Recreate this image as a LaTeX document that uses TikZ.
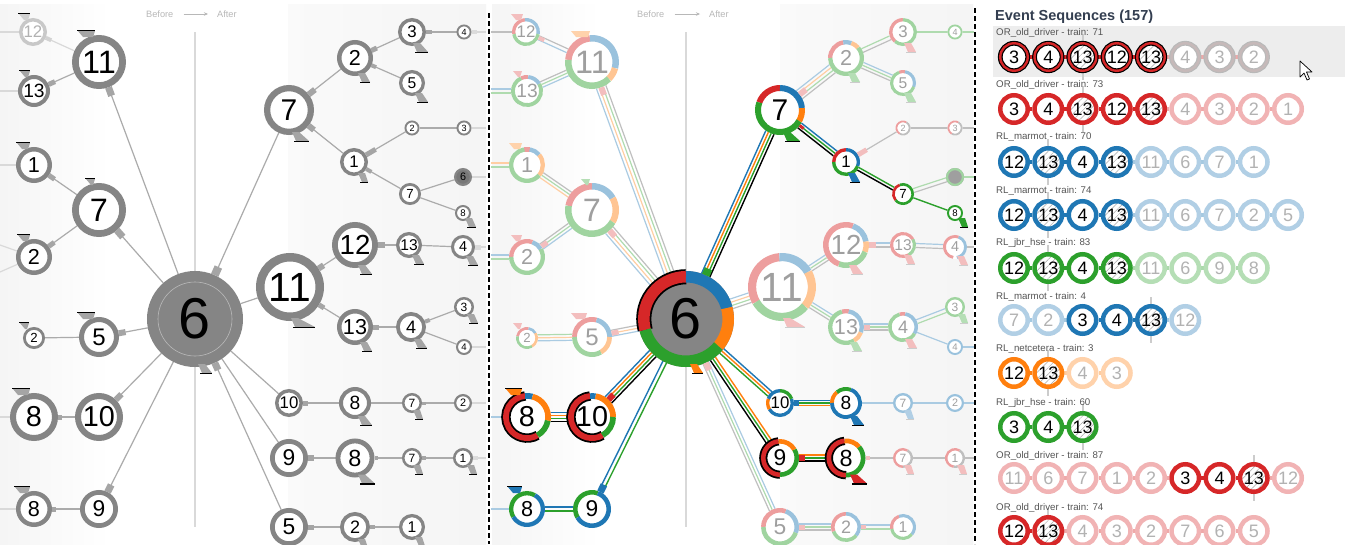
\documentclass[tikz,border=0pt]{standalone}
\usepackage{fontspec}
\setmainfont{Liberation Sans}
\usetikzlibrary{calc,patterns.meta,arrows.meta}
\definecolor{cr}{HTML}{D62728}
\definecolor{cb}{HTML}{1F77B4}
\definecolor{co}{HTML}{FF7F0E}
\definecolor{cg}{HTML}{2CA02C}
\definecolor{gring}{HTML}{858585}
\definecolor{gedge}{HTML}{ABABAB}
\definecolor{gflow}{HTML}{A5A5A5}
\definecolor{gtext}{HTML}{B8B8B8}
\definecolor{ttl}{HTML}{333E50}
\definecolor{lbl}{HTML}{555555}
\pgfdeclarelayer{bg}
\pgfdeclarelayer{edges}
\pgfsetlayers{bg,edges,main}
\newcommand\fsz[1]{\fontsize{#1}{#1}\selectfont}

% grey ring node: [options]{name}{x}{y}{radius}{label}
\newcommand\gn[6][]{%
  \pgfmathsetmacro\rw{max(1.6,0.25*#5)}%
  \pgfmathsetmacro\dd{2*#5-\rw}%
  \pgfmathsetmacro\fz{max(9,1.2*#5)}%
  \node[gnode,minimum size=\dd pt,line width=\rw pt,font=\fsz{\fz},#1] (#2) at (#3,#4) {#6};}

% coloured ring node: [options]{name}{x}{y}{radius}{label}{style/start/end,...}
\newcommand\cn[7][]{%
  \pgfmathsetmacro\rw{max(1.6,0.24*#5)}%
  \pgfmathsetmacro\rr{#5-0.5*\rw}%
  \pgfmathsetmacro\dd{2*#5}%
  \pgfmathsetmacro\fz{max(9,1.2*#5)}%
  \node[cnode,minimum size=\dd pt,font=\fsz{\fz},#1] (#2) at (#3,#4) {#6};%
  \foreach \s/\a/\b in {#7}{%
    \draw[\s,line width=\rw pt] (#3,#4) ++(\a:\rr) arc[start angle=\a,end angle=\b,radius=\rr];}}

% bundle of parallel lines between two nodes: {from}{to}{style/offset,...}
\newcommand\bund[3]{%
  \foreach \s/\o in {#3}{%
    \draw[\s] ($(#1.center)!\o pt!90:(#2.center)$) -- ($(#2.center)!\o pt!-90:(#1.center)$);}}

% flow block on the edge from #2 towards #3, between distances #4 and #5, width #6
\newcommand\fb[6][gflow]{%
  \draw[#1,line width=#6pt] ($(#2.center)!#4pt!(#3.center)$) -- ($(#2.center)!#5pt!(#3.center)$);}

% timing marks: wedge above a node (before) or below it (after), with a bar
\newcommand\tw[6][gflow]{\fill[#1] (#5+1,#3-#4-4) -- (#6,#3-#4-4) -- (#6-2,#3-#4+2) -- (#5+6,#3-#4+2) -- cycle;}
\newcommand\tb[6][gflow]{\tw[#1]{#2}{#3}{#4}{#5}{#6}\draw[bar] (#5,#3-#4-4.5) -- (#6,#3-#4-4.5);}
\newcommand\aw[6][gflow]{\fill[#1] (#5-2,#3+#4-3) -- (#5+5,#3+#4-3) -- (#6,#3+#4+6) -- (#5+2,#3+#4+6) -- cycle;}
\newcommand\ab[6][gflow]{\aw[#1]{#2}{#3}{#4}{#5}{#6}\draw[bar] (#5,#3+#4+6.5) -- (#6,#3+#4+6.5);}
\newcommand\abf[6][gflow]{\aw[#1]{#2}{#3}{#4}{#5}{#6}\draw[barf] (#5,#3+#4+6.5) -- (#6,#3+#4+6.5);}

% one event sequence: {id}{y}{on style}{off style}{colour}{label/on,...}
\newcommand\seqrow[6]{%
  \gdef\prevh{0}%
  \foreach \l/\h [count=\i] in {#6}{%
    \pgfmathsetmacro\sx{1014+(\i-1)*34.25}%
    \ifnum\h=1 \node[#3,hatch=\l] (s#1-\i) at (\sx,#2) {\l};%
    \else \node[#4,hatch=\l] (s#1-\i) at (\sx,#2) {\l};\fi
    \ifnum\i>1
      \pgfmathtruncatemacro\ip{\i-1}%
      \pgfmathtruncatemacro\both{\h*\prevh}%
      \ifnum\both=1 \def\lc{#5}\else\def\lc{#5!40}\fi
      \begin{pgfonlayer}{edges}\draw[seqlink,draw=\lc] (s#1-\ip) -- (s#1-\i);\end{pgfonlayer}%
    \fi
    \xdef\prevh{\h}}}

\begin{document}
\begin{tikzpicture}[x=1pt,y=-1pt,
  gnode/.style={circle,inner sep=0pt,draw=gring,fill=white,text=black},
  cnode/.style={circle,inner sep=0pt,fill=white,text=black},
  fd/.style={text=gray!75},
  ge/.style={draw=gedge,line width=1.2pt},
  gel/.style={draw=gedge!45,line width=1.2pt},
  bar/.style={draw=black,line width=1.6pt},
  barf/.style={draw=gray!40,line width=1.4pt},
  sR/.style={draw=cr}, sB/.style={draw=cb}, sO/.style={draw=co}, sG/.style={draw=cg},
  sRK/.style={draw=cr,preaction={draw=black,line width=\pgflinewidth+1.8pt}},
  fR/.style={draw=cr!45}, fB/.style={draw=cb!45}, fO/.style={draw=co!45},
  fG/.style={draw=cg!45}, fK/.style={draw=gray!50},
  eB/.style={draw=cb,line width=1.4pt}, eO/.style={draw=co,line width=1.4pt},
  eG/.style={draw=cg,line width=1.4pt}, eK/.style={draw=black,line width=1.4pt},
  uB/.style={draw=cb!38,line width=1.2pt}, uO/.style={draw=co!38,line width=1.2pt},
  uG/.style={draw=cg!38,line width=1.2pt}, uK/.style={draw=gray!50,line width=1.2pt},
  vline/.style={draw=gray!30,line width=1.5pt},
  divider/.style={draw=black,line width=1.6pt,dash pattern=on 5pt off 3pt},
  bfa/.style={inner sep=0pt,text=gtext,font=\fsz{9.2},anchor=west},
  bfarrow/.style={draw=gtext,line width=0.8pt,-{Stealth[length=4pt,width=3.5pt]},shorten <=10pt,shorten >=9pt},
  sq/.style={circle,inner sep=0pt,minimum size=27.5pt,line width=4.5pt,fill=white,text=black,font=\fsz{18}},
  sqR/.style={sq,draw=cr}, sqRf/.style={sq,draw=cr!35,text=gray!60},
  sqB/.style={sq,draw=cb}, sqBf/.style={sq,draw=cb!35,text=gray!60},
  sqG/.style={sq,draw=cg}, sqGf/.style={sq,draw=cg!35,text=gray!60},
  sqO/.style={sq,draw=co}, sqOf/.style={sq,draw=co!35,text=gray!60},
  sqK/.style={sq,draw=black,double=cr,double distance=2.4pt,line width=1.2pt},
  sqKf/.style={sq,draw=gray!55,double=cr!15!gray!50,double distance=2.4pt,line width=1.2pt,text=gray!60},
  seqlink/.style={line width=3.5pt},
  vmark/.style={draw=gray!40,line width=2pt},
  seqlabel/.style={anchor=west,inner sep=0pt,font=\fsz{9.7},text=lbl},
  hatch/.code={\ifnum#1=13\relax\pgfkeysalso{path picture={\fill[pattern={Lines[angle=45,distance=4.5pt,line width=0.5pt]},pattern color=gray!70] (path picture bounding box.south west) rectangle (path picture bounding box.north east);}}\fi}
]
\useasboundingbox (0,0) rectangle (1351,544);

% ---------- background bands ----------
\begin{pgfonlayer}{bg}
  \fill[white] (0,0) rectangle (1351,544);
  \shade[left color=black!4,right color=white] (0,4) rectangle (110,544);
  \shade[left color=black!2,right color=black!4] (288,4) rectangle (486,544);
  \shade[left color=black!4,right color=white] (492,4) rectangle (600,544);
  \shade[left color=black!2,right color=black!4] (780,4) rectangle (973,544);
  \fill[black!7] (993,26) rectangle (1345,77);
\end{pgfonlayer}

% ---------- panel headers and axes ----------
\node[bfa] (bf1) at (146,14) {Before};
\node[bfa] (af1) at (217,14) {After};
\draw[bfarrow] (bf1) -- (af1);
\node[bfa] (bf2) at (637,14) {Before};
\node[bfa] (af2) at (709,14) {After};
\draw[bfarrow] (bf2) -- (af2);
\begin{pgfonlayer}{edges}
  \draw[vline] (195,32) -- (195,527);
  \draw[vline] (686,32) -- (686,527);
\end{pgfonlayer}
\draw[divider] (489,13) -- (489,544);
\draw[divider] (975,8) -- (975,544);

% =============== left panel: aggregated tree ===============
\gn[draw=gring!45,text=gray!60]{L12}{33}{32}{14}{12}
\gn{L11}{99}{62}{27}{11}
\gn{L13}{34}{91}{16}{13}
\gn{L1}{34}{165}{18}{1}
\gn{L7}{99}{210}{27}{7}
\gn{L2}{34}{257}{18}{2}
\gn[fill=gring]{L6}{195}{319}{48}{6}
\draw[gray!55,line width=0.6pt] (L6.center) circle[radius=37];
\gn{L2s}{34}{338}{11}{2}
\gn{L5}{99}{337}{20}{5}
\gn{L8}{34}{417}{24}{8}
\gn{L10}{99}{417}{24}{10}
\gn{L8b}{34}{509}{18}{8}
\gn{L9}{99}{509}{19}{9}

\gn{R7}{289}{110}{25}{7}
\gn{R2}{355}{58}{18}{2}
\gn{R3}{412}{32}{14}{3}
\gn{R4}{464}{32}{7.5}{4}
\gn{R5a}{412}{83}{13}{5}
\gn{R2s}{412}{128}{7.5}{2}
\gn{R3s}{464}{128}{7.5}{3}
\gn{R1}{354}{162}{14}{1}
\gn[fill=gring!90!black]{R6s}{463}{177}{9}{6}
\gn{R7s}{410}{194}{11}{7}
\gn{R8s}{463}{213}{8}{8}
\gn{R12}{355}{245}{23}{12}
\gn{R13}{409}{245}{13}{13}
\gn{R4b}{463}{247}{12}{4}
\gn{R11}{290}{287}{34}{11}
\gn{R13b}{355}{327}{18}{13}
\gn{R4c}{411}{327}{15}{4}
\gn{R3b}{464}{307}{10}{3}
\gn{R4d}{464}{347}{8}{4}
\gn{R10}{289}{403}{14}{10}
\gn{R8}{355}{403}{16}{8}
\gn{R7b}{412}{403}{10}{7}
\gn{R2b}{463}{403}{9}{2}
\gn{R9}{289}{458}{19}{9}
\gn{R8c}{355}{458}{19.5}{8}
\gn{R7c}{412}{458}{10}{7}
\gn{R1b}{463}{458}{10}{1}
\gn{R5}{289}{527}{19}{5}
\gn{R2c}{355}{527}{15}{2}
\gn{R1c}{412}{527}{13}{1}

\coordinate (lx12) at (0,32);  \coordinate (lx13) at (0,91);
\coordinate (lx1) at (0,165);  \coordinate (lx2) at (0,245);
\coordinate (lx2b) at (0,272);
\coordinate (lx8) at (0,417);  \coordinate (lx8b) at (0,509);
\coordinate (rx4) at (486,32); \coordinate (rx3s) at (486,128);
\coordinate (rx6s) at (486,177); \coordinate (rx4b) at (486,247);
\coordinate (rx4d) at (486,347); \coordinate (rx2b) at (486,403);
\coordinate (rx1b) at (486,458);

\begin{pgfonlayer}{edges}
  \foreach \a/\b in {L6/L11,L6/L7,L6/L5,L6/L10,L6/L9,L11/L13,L7/L1,L7/L2,L5/L2s,L10/L8,L9/L8b,
      L6/R7,L6/R11,L6/R10,L6/R9,L6/R5,R7/R2,R2/R3,R2/R5a,R3/R4,R7/R1,R1/R2s,R2s/R3s,R1/R7s,
      R7s/R6s,R7s/R8s,R11/R12,R12/R13,R13/R4b,R11/R13b,R13b/R4c,R4c/R3b,R4c/R4d,R10/R8,R8/R7b,
      R7b/R2b,R9/R8c,R8c/R7c,R7c/R1b,R5/R2c,R2c/R1c}
    \draw[ge] (\a) -- (\b);
  \draw[gel] (L11) -- (L12);
  \foreach \a/\b in {lx12/L12,lx13/L13,lx1/L1,lx2/L2,lx2b/L2,lx8/L8,lx8b/L8b,
      R4/rx4,R3s/rx3s,R6s/rx6s,R4b/rx4b,R4d/rx4d,R2b/rx2b,R1b/rx1b}
    \draw[gel] (\a) -- (\b);
\end{pgfonlayer}

% flow blocks
\fb[gflow!50]{L12}{L11}{14}{20}{4}
\fb{L13}{L11}{16}{23}{5}
\fb{L11}{L6}{27}{36}{7}
\fb{L1}{L7}{18}{25}{5}
\fb{L2}{L7}{18}{25}{5}
\fb{L7}{L6}{27}{36}{7}
\fb{L5}{L6}{20}{27}{6}
\fb{L10}{L6}{24}{32}{6}
\fb{L8}{L10}{24}{28}{5}
\fb{L9}{L6}{19}{27}{7}
\fb{L8b}{L9}{18}{22}{5}
\fb{L6}{R7}{48}{57}{8}
\fb{L6}{R5}{48}{56}{7}
\fb{R7}{R2}{25}{33}{6}
\fb{R7}{R1}{25}{32}{6}
\fb{R2}{R3}{18}{24}{5}
\fb{R2}{R5a}{18}{23}{4}
\fb{R1}{R2s}{14}{25}{5}
\fb{R1}{R7s}{14}{20}{4}
\fb{R3}{R4}{14}{20}{4}
\fb{R12}{R13}{23}{30}{6}
\fb{R11}{R12}{34}{40}{6}
\fb{R11}{R13b}{34}{40}{5}
\fb{R13b}{R4c}{18}{24}{5}
\fb{R4c}{R3b}{15}{20}{4}
\fb{R10}{R8}{14}{19}{5}
\fb{R9}{R8c}{19}{25}{6}
\fb{R8c}{R7c}{19.5}{23}{4}
\fb{R7b}{R2b}{10}{14}{3}
\fb{R7c}{R1b}{10}{14}{4}
\fb{R5}{R2c}{19}{25}{5}
\fb{R2c}{R1c}{15}{20}{4}
\fb[gflow!40]{R4}{rx4}{7.5}{13}{4}
\fb[gflow!40]{R4b}{rx4b}{12}{18}{5}
\fb[gflow!40]{R1b}{rx1b}{10}{15}{4}

% timing marks
\tb[gflow!50]{33}{32}{14}{18}{30}
\tb{99}{62}{27}{77}{95}
\tb{34}{91}{16}{19}{30}
\tb{34}{165}{18}{16}{30}
\tb{99}{210}{27}{85}{95}
\tb{34}{257}{18}{17}{30}
\tb{34}{338}{11}{19}{29}
\tb{99}{337}{20}{77}{95}
\tb{34}{417}{24}{12}{30}
\tb{34}{509}{18}{14}{30}
\ab{195}{319}{48}{200}{212}
\ab{289}{110}{25}{294}{309}
\ab{355}{58}{18}{360}{370}
\ab{412}{32}{14}{415}{428}
\ab{412}{83}{13}{417}{428}
\ab{354}{162}{14}{360}{368}
\ab{463}{213}{8}{467}{476}
\ab{355}{245}{23}{360}{372}
\ab{409}{245}{13}{414}{424}
\ab{463}{247}{12}{468}{478}
\ab{290}{287}{34}{293}{315}
\ab{355}{327}{18}{362}{372}
\ab{411}{327}{15}{416}{427}
\ab{464}{307}{10}{469}{478}
\ab{355}{403}{16}{360}{372}
\ab{412}{403}{10}{415}{423}
\ab{355}{458}{19.5}{360}{375}
\ab{412}{458}{10}{415}{423}
\ab{463}{458}{10}{469}{477}
\ab{355}{527}{15}{360}{368}
\ab{412}{527}{13}{417}{425}

% =============== middle panel: coloured by group ===============
\cn[fd]{ML12}{526}{32}{14}{12}{fR/170/265,fB/265/370,fG/370/530}
\cn[fd]{ML11}{592}{62}{27}{11}{fR/185/265,fB/265/375,fO/375/405,fG/405/545}
\cn[fd]{ML13}{527}{91}{16}{13}{fR/245/275,fB/275/330,fG/330/605}
\cn[fd]{ML1}{527}{165}{18}{1}{fR/260/280,fB/280/320,fO/320/400,fG/400/620}
\cn[fd]{ML7}{592}{210}{27}{7}{fR/190/270,fB/270/330,fO/330/390,fG/390/550}
\cn[fd]{ML2}{527}{257}{18}{2}{fR/180/290,fB/290/330,fG/330/540}
\cn[fd]{ML2s}{527}{338}{11}{2}{fR/190/280,fB/280/330,fO/330/420,fG/420/550}
\cn[fd]{ML5}{592}{337}{20}{5}{fR/180/285,fB/285/360,fO/360/420,fG/420/540}
\cn{ML8}{527}{417}{24}{8}{sRK/60/265,sB/265/285,sO/285/370,sG/370/420}
\cn{ML10}{592}{417}{24}{10}{sRK/60/265,sB/265/280,sO/280/360,sG/360/420}
\cn{ML8b}{527}{509}{18}{8}{sG/150/300,sB/300/510}
\cn{ML9}{592}{509}{19}{9}{sG/150/290,sB/290/510}
\cn[fill=gring]{M6}{686}{319}{48}{6}{sRK/165/270,sB/270/345,sO/345/400,sG/400/525}

\cn{MR7}{780}{110}{25}{7}{sR/200/270,sB/270/355,sO/355/390,sG/390/560}
\cn[fd]{MR2}{846}{58}{18}{2}{fR/180/260,fB/260/290,fO/290/320,fG/320/540}
\cn[fd]{MR3}{903}{32}{14}{3}{fR/130/270,fG/270/490}
\cn[fd]{MR4}{955}{32}{7.5}{4}{fG/0/360}
\cn[fd]{MR5a}{903}{83}{13}{5}{fR/250/280,fB/280/380,fG/380/610}
\cn[fd]{MR2s}{903}{128}{7.5}{2}{fK/300/480,fR/120/300}
\cn[fd]{MR3s}{955}{128}{7.5}{3}{fK/300/480,fR/120/300}
\cn{MR1}{846}{162}{14}{1}{sR/180/270,sB/270/380,sG/380/540}
\cn[fd,fill=gray!75]{MR6s}{955}{177}{9}{6}{fG/0/360}
\cn{MR7s}{903}{194}{11}{7}{sR/140/250,sG/250/500}
\cn{MR8s}{955}{213}{8}{8}{sG/0/360}
\cn[fd]{MR12}{846}{245}{23}{12}{fR/110/290,fB/290/350,fO/350/380,fG/380/470}
\cn[fd]{MR13}{903}{245}{13}{13}{fR/60/330,fG/330/420}
\cn[fd]{MR4b}{955}{247}{12}{4}{fR/100/290,fB/290/440}
\cn[fd]{MR11}{782}{287}{34}{11}{fR/150/265,fB/265/330,fO/330/400,fG/400/510}
\cn[fd]{MR13b}{846}{327}{18}{13}{fR/255/280,fB/280/380,fO/380/420,fG/420/615}
\cn[fd]{MR4c}{903}{327}{15}{4}{fR/255/280,fB/280/390,fG/390/615}
\cn[fd]{MR3b}{955}{307}{10}{3}{fG/0/360}
\cn[fd]{MR4d}{955}{347}{8}{4}{fB/0/360}
\cn{MR10}{780}{403}{14}{10}{sB/340/510,sO/150/200,sB/200/270,sG/270/340}
\cn{MR8}{846}{403}{16}{8}{sO/180/230,sG/230/290,sB/290/540}
\cn[fd]{MR7b}{903}{403}{10}{7}{fB/0/360}
\cn[fd]{MR2b}{955}{403}{9}{2}{fB/0/360}
\cn{MR9}{780}{458}{19}{9}{sRK/90/265,sO/265/330,sG/330/450}
\cn{MR8c}{846}{458}{19.5}{8}{sRK/90/265,sO/265/320,sG/320/450}
\cn[fd]{MR7c}{903}{458}{10}{7}{fK/300/450,fR/90/300}
\cn[fd]{MR1b}{955}{458}{10}{1}{fK/300/460,fR/100/300}
\cn[fd]{MR5}{780}{527}{19}{5}{fR/180/290,fB/290/380,fG/380/540}
\cn[fd]{MR2c}{846}{527}{15}{2}{fR/160/270,fB/270/400,fG/400/520}
\cn[fd]{MR1c}{903}{527}{13}{1}{fR/170/250,fB/250/400,fG/400/530}

\coordinate (mx12) at (491,32);  \coordinate (mx13) at (491,91);
\coordinate (mx1) at (491,165);  \coordinate (mx2) at (491,257);
\coordinate (mx8) at (491,417);  \coordinate (mx8b) at (491,509);
\coordinate (nx4) at (974,32);   \coordinate (nx3s) at (974,128);
\coordinate (nx6s) at (974,177); \coordinate (nx4b) at (974,247);
\coordinate (nx4d) at (974,347); \coordinate (nx2b) at (974,403);
\coordinate (nx1b) at (974,458);

\begin{pgfonlayer}{edges}
  % faint bundles
  \bund{M6}{ML11}{uB/5,uO/1.7,uG/-1.7,uK/-5}
  \bund{M6}{ML7}{uB/5,uO/1.7,uG/-1.7,uK/-5}
  \bund{M6}{ML5}{uB/3,uO/0,uK/-3}
  \bund{ML11}{ML12}{uB/2,uK/-2}
  \bund{ML11}{ML13}{uB/3,uG/0,uK/-3}
  \bund{ML7}{ML1}{uO/3,uG/0,uK/-3}
  \bund{ML7}{ML2}{uB/3,uG/0,uK/-3}
  \bund{ML5}{ML2s}{uB/3,uO/0,uG/-3}
  \bund{MR7}{MR2}{uB/5,uO/1.7,uG/-1.7,uK/-5}
  \bund{MR2}{MR3}{uG/2,uK/-2}
  \bund{MR2}{MR5a}{uB/3,uG/0,uK/-3}
  \bund{MR3}{MR4}{uG/0}
  \bund{MR1}{MR2s}{uK/0}
  \bund{MR2s}{MR3s}{uK/0}
  \bund{MR7s}{MR6s}{uG/2,uK/-2}
  \bund{M6}{MR11}{uB/5,uO/1.7,uG/-1.7,uK/-5}
  \bund{MR11}{MR12}{uB/3,uG/0,uK/-3}
  \bund{MR12}{MR13}{uB/2,uK/-2}
  \bund{MR13}{MR4b}{uB/2,uK/-2}
  \bund{MR11}{MR13b}{uB/3,uG/0,uK/-3}
  \bund{MR13b}{MR4c}{uB/3,uG/0,uK/-3}
  \bund{MR4c}{MR3b}{uB/2,uG/-2}
  \bund{MR4c}{MR4d}{uB/0}
  \bund{MR8}{MR7b}{uB/0}
  \bund{MR7b}{MR2b}{uB/0}
  \bund{MR8c}{MR7c}{uK/0}
  \bund{MR7c}{MR1b}{uK/0}
  \bund{M6}{MR5}{uB/3,uG/0,uK/-3}
  \bund{MR5}{MR2c}{uB/3,uG/0,uK/-3}
  \bund{MR2c}{MR1c}{uB/2,uG/-2}
  \bund{mx12}{ML12}{uK/0}
  \bund{mx13}{ML13}{uB/2,uG/-2}
  \bund{mx1}{ML1}{uO/2,uG/-2}
  \bund{mx2}{ML2}{uB/2,uG/-2}
  \bund{mx8}{ML8}{uB/0}
  \bund{mx8b}{ML8b}{uB/0}
  \bund{MR4}{nx4}{uG/0}
  \bund{MR3s}{nx3s}{uK/0}
  \bund{MR6s}{nx6s}{uG/0}
  \bund{MR4b}{nx4b}{uK/0}
  \bund{MR4d}{nx4d}{uB/0}
  \bund{MR2b}{nx2b}{uB/0}
  \bund{MR1b}{nx1b}{uK/0}
  % highlighted bundles
  \bund{M6}{MR7}{eB/4.5,eO/1.5,eG/-1.5,eK/-4.5}
  \bund{MR7}{MR1}{eB/3,eG/0,eK/-3}
  \bund{MR1}{MR7s}{eG/1.5,eK/-1.5}
  \bund{MR7s}{MR8s}{eG/0}
  \bund{M6}{ML10}{eB/-4.5,eO/-1.5,eG/1.5,eK/4.5}
  \bund{ML10}{ML8}{eB/-4.5,eO/-1.5,eG/1.5,eK/4.5}
  \bund{M6}{ML9}{eB/-2,eG/2}
  \bund{ML9}{ML8b}{eB/-2,eG/2}
  \bund{M6}{MR10}{eB/3,eO/0,eG/-3}
  \bund{MR10}{MR8}{eB/2.5,eG/0,eO/-2.5}
  \bund{M6}{MR9}{eO/3,eG/0,eK/-3}
  \bund{MR9}{MR8c}{eO/3,eG/0,eK/-3}
\end{pgfonlayer}

% coloured flow blocks
\fb[cr]{ML10}{M6}{24}{31}{6}
\fb[cb]{ML9}{M6}{19}{27}{7}
\fb[cr]{MR7}{MR1}{25}{30}{3}
\fb[cb]{MR10}{MR8}{14}{19}{5}
\fb[cr]{MR9}{MR8c}{19}{25}{6}
\fb[cg]{M6}{MR7}{48}{55}{8}
\fb[cr!30]{ML11}{M6}{27}{35}{6}
\fb[cr!30]{ML7}{M6}{27}{35}{6}
\fb[cr!30]{ML12}{ML11}{14}{20}{4}
\fb[cr!30]{ML2}{ML7}{18}{25}{5}
\fb[cr!30]{ML5}{M6}{20}{27}{5}
\fb[cr!30]{MR7}{MR2}{25}{33}{6}
\fb[cr!30]{MR1}{MR2s}{14}{24}{5}
\fb[cr!30]{MR12}{MR13}{23}{30}{6}
\fb[cr!30]{MR13b}{MR4c}{18}{24}{5}
\fb[cr!30]{MR8c}{MR7c}{19.5}{24}{4}
\fb[cr!30]{MR5}{MR2c}{19}{25}{5}
\fb[cr!30]{MR2c}{MR1c}{15}{20}{4}
\fb[cr!30]{M6}{MR5}{48}{56}{6}

% coloured timing marks
\tw[cr!30]{526}{32}{14}{510}{523}
\tw[co!35]{592}{62}{27}{570}{590}
\tw[cr!30]{527}{91}{16}{512}{522}
\tw[co!35]{527}{165}{18}{508}{522}
\tw[cg!35]{592}{210}{27}{580}{590}
\tw[cr!30]{527}{257}{18}{510}{522}
\tw[cr!30]{527}{338}{11}{512}{522}
\tw[cr!30]{592}{337}{20}{570}{587}
\tb[co]{527}{417}{24}{505}{522}
\tb[cb]{527}{509}{18}{507}{522}
\ab[co]{686}{319}{48}{692}{703}
\ab[cg]{780}{110}{25}{785}{800}
\ab[cb]{846}{162}{14}{850}{860}
\ab[cg]{955}{213}{8}{960}{968}
\ab[cb]{846}{403}{16}{852}{864}
\ab[cr]{846}{458}{19.5}{852}{867}
\abf[cg!35]{846}{58}{18}{850}{860}
\abf[cr!30]{903}{32}{14}{906}{916}
\abf[cg!35]{903}{83}{13}{906}{916}
\abf[cr!30]{846}{245}{23}{851}{863}
\abf[cr!30]{903}{245}{13}{906}{915}
\abf[cr!30]{955}{247}{12}{959}{968}
\abf[cr!30]{782}{287}{34}{785}{805}
\abf[cg!35]{846}{327}{18}{852}{862}
\abf[cr!30]{903}{327}{15}{907}{917}
\abf[cg!35]{955}{307}{10}{960}{968}
\abf[cb!35]{903}{403}{10}{906}{914}
\abf[cr!30]{903}{458}{10}{906}{914}
\abf[cr!30]{955}{458}{10}{959}{967}

% =============== right panel: event sequences ===============
\node[anchor=west,inner sep=0pt,font=\bfseries\fsz{14.5},text=ttl] (title) at (995,17) {Event Sequences (157)};
\node[seqlabel] (t1) at (996,33) {OR\_old\_driver - train: 71};
\node[seqlabel] (t2) at (996,85) {OR\_old\_driver - train: 73};
\node[seqlabel] (t3) at (996,137) {RL\_marmot - train: 70};
\node[seqlabel] (t4) at (996,191) {RL\_marmot - train: 74};
\node[seqlabel] (t5) at (996,243) {RL\_jbr\_hse - train: 83};
\node[seqlabel] (t6) at (996,297) {RL\_marmot - train: 4};
\node[seqlabel] (t7) at (996,349) {RL\_netcetera - train: 3};
\node[seqlabel] (t8) at (996,403) {RL\_jbr\_hse - train: 60};
\node[seqlabel] (t9) at (996,456) {OR\_old\_driver - train: 87};
\node[seqlabel] (t10) at (996,508) {OR\_old\_driver - train: 74};

\seqrow{1}{57}{sqK}{sqKf}{cr}{3/1,4/1,13/1,12/1,13/1,4/0,3/0,2/0}
\seqrow{2}{109}{sqR}{sqRf}{cr}{3/1,4/1,13/1,12/1,13/1,4/0,3/0,2/0,1/0}
\seqrow{3}{162}{sqB}{sqBf}{cb}{12/1,13/1,4/1,13/1,11/0,6/0,7/0,1/0}
\seqrow{4}{215}{sqB}{sqBf}{cb}{12/1,13/1,4/1,13/1,11/0,6/0,7/0,2/0,5/0}
\seqrow{5}{268}{sqG}{sqGf}{cg}{12/1,13/1,4/1,13/1,11/0,6/0,9/0,8/0}
\seqrow{6}{320}{sqB}{sqBf}{cb}{7/0,2/0,3/1,4/1,13/1,12/0}
\seqrow{7}{373}{sqO}{sqOf}{co}{12/1,13/1,4/0,3/0}
\seqrow{8}{427}{sqG}{sqGf}{cg}{3/1,4/1,13/1}
\seqrow{9}{478}{sqR}{sqRf}{cr}{11/0,6/0,7/0,1/0,2/0,3/1,4/1,13/1,12/0}
\seqrow{10}{531}{sqR}{sqRf}{cr}{12/1,13/1,4/0,3/0,2/0,7/0,6/0,5/0}

\begin{pgfonlayer}{edges}
  \foreach \n in {1-3,2-3,3-2,4-2,5-2,6-5,7-2,8-3,9-8,10-2}
    \draw[vmark] ($(s\n.center)+(0,-23)$) -- ($(s\n.center)+(0,23)$);
\end{pgfonlayer}

% pointer
\draw[black,line width=0.7pt,fill=white,line join=round]
  (1300,61) -- (1300,77) -- (1304,73) -- (1307,80) -- (1309.5,79) -- (1306.5,72) -- (1312,72) -- cycle;
\end{tikzpicture}
\end{document}
